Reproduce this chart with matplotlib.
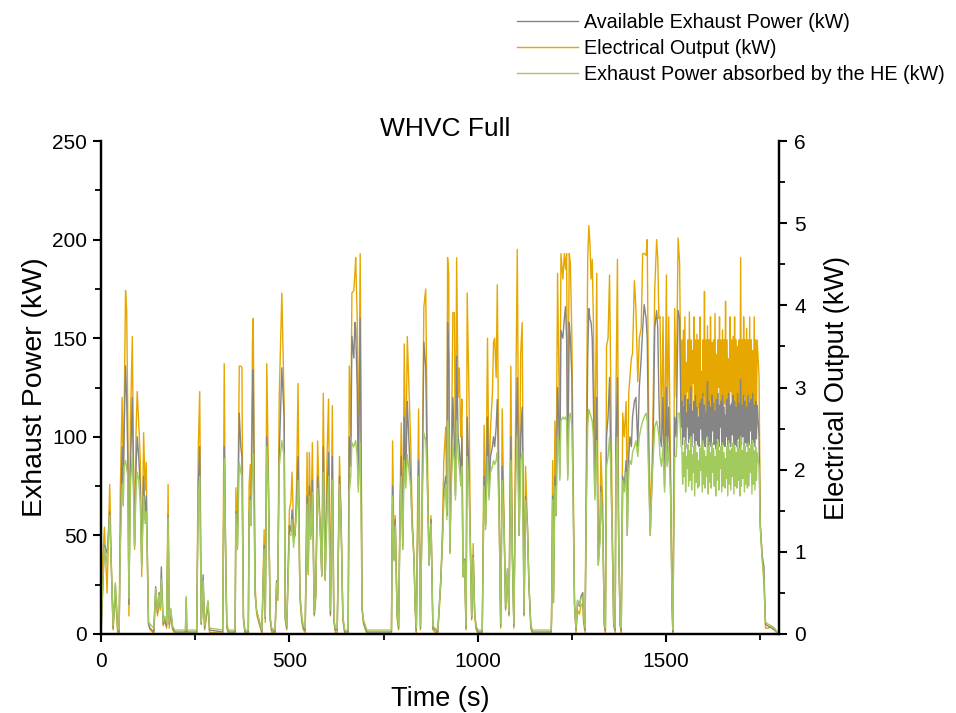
import matplotlib
matplotlib.use("Agg")
import matplotlib.pyplot as plt
from matplotlib.ticker import MultipleLocator

plt.rcParams['font.family'] = ['Liberation Sans', 'DejaVu Sans']

# ---- data ----
time_s = [0, 5, 9, 16, 23, 28, 32, 38, 44, 48, 51, 56, 59, 61, 65, 68, 71, 74, 78, 83,
          86, 89, 93, 96, 100, 104, 108, 113, 117, 120, 123, 126, 130, 140, 145, 150, 154, 157, 160, 165,
          169, 174, 178, 181, 185, 190, 196, 224, 226, 228, 254, 258, 262, 266, 271, 275, 284, 288, 323, 327,
          331, 334, 338, 356, 358, 362, 367, 371, 374, 378, 382, 391, 393, 396, 398, 402, 404, 409, 413, 420,
          427, 433, 436, 440, 444, 449, 453, 462, 466, 469, 473, 480, 486, 489, 493, 500, 504, 507, 511, 515,
          519, 523, 528, 533, 537, 542, 547, 550, 553, 557, 561, 566, 570, 575, 580, 583, 586, 590, 595, 600,
          604, 609, 614, 618, 622, 627, 633, 637, 642, 647, 656, 659, 663, 666, 671, 674, 676, 680, 683, 688,
          693, 697, 702, 706, 771, 774, 778, 781, 786, 790, 794, 797, 801, 805, 809, 813, 818, 822, 826, 831,
          834, 837, 843, 848, 852, 857, 862, 866, 871, 876, 881, 887, 894, 902, 906, 910, 915, 918, 920, 923,
          926, 930, 934, 938, 941, 944, 948, 951, 955, 958, 961, 965, 969, 972, 977, 980, 984, 988, 992, 996,
          1001, 1012, 1017, 1021, 1026, 1030, 1034, 1039, 1042, 1045, 1049, 1052, 1057, 1061, 1065, 1070, 1074, 1079, 1083, 1088,
          1092, 1096, 1101, 1105, 1110, 1114, 1118, 1123, 1127, 1132, 1136, 1141, 1145, 1195, 1196, 1199, 1201, 1205, 1208, 1212,
          1215, 1218, 1221, 1226, 1230, 1233, 1236, 1239, 1243, 1246, 1250, 1252, 1257, 1261, 1265, 1270, 1274, 1279, 1281, 1285,
          1288, 1292, 1295, 1298, 1301, 1304, 1307, 1311, 1316, 1320, 1325, 1327, 1332, 1336, 1339, 1342, 1346, 1350, 1353, 1357,
          1361, 1365, 1367, 1371, 1374, 1378, 1381, 1385, 1389, 1394, 1397, 1401, 1404, 1408, 1411, 1416, 1420, 1425, 1429, 1434,
          1438, 1442, 1447, 1450, 1454, 1458, 1463, 1466, 1470, 1475, 1478, 1481, 1484, 1488, 1492, 1496, 1501, 1503, 1507, 1512,
          1516, 1518, 1523, 1527, 1532, 1536, 1540,
          1542, 1544, 1546, 1548, 1550, 1552, 1554, 1556, 1558, 1560, 1562, 1564, 1566, 1568, 1570, 1572, 1574, 1576, 1578, 1580,
          1582, 1584, 1586, 1588, 1590, 1592, 1594, 1596, 1598, 1600, 1602, 1604, 1606, 1608, 1610, 1612, 1614, 1616, 1618, 1620,
          1622, 1624, 1626, 1628, 1630, 1632, 1634, 1636, 1638, 1640, 1642, 1644, 1646, 1648, 1650, 1652, 1654, 1656, 1658, 1660,
          1662, 1664, 1666, 1668, 1670, 1672, 1674, 1676, 1678, 1680, 1682, 1684, 1686, 1688, 1690, 1692, 1694, 1696, 1698, 1700,
          1702, 1704, 1706, 1708, 1710, 1712, 1714, 1716, 1718, 1720, 1722, 1724, 1726, 1728, 1730, 1732, 1734, 1736, 1738, 1740,
          1742,
          1747, 1750, 1755, 1760, 1762, 1764, 1771, 1780, 1788, 1795]

available_kw = [0, 25, 45, 41, 62, 30, 3, 25, 3, 1, 45, 95, 70, 100, 136, 120, 90, 15, 85, 120,
                80, 45, 85, 100, 90, 75, 35, 80, 58, 70, 40, 5, 3, 1, 24, 11, 21, 14, 34, 5,
                8, 4, 60, 5, 12, 3, 1, 1, 18, 1, 1, 75, 95, 5, 30, 3, 16, 2, 1, 95,
                39, 4, 1, 1, 62, 45, 112, 95, 90, 8, 1, 1, 60, 70, 55, 118, 134, 20, 12, 6,
                1, 45, 8, 100, 79, 8, 2, 1, 27, 20, 90, 135, 110, 8, 3, 55, 52, 63, 48, 50,
                65, 90, 20, 8, 3, 2, 70, 32, 75, 50, 78, 10, 20, 80, 62, 48, 30, 95, 28, 70,
                92, 10, 90, 7, 2, 2, 80, 60, 8, 1, 1, 100, 85, 151, 140, 158, 155, 125, 75, 160,
                13, 6, 3, 1, 1, 75, 38, 58, 10, 3, 65, 90, 45, 110, 78, 118, 95, 78, 55, 37,
                13, 2, 88, 3, 60, 148, 135, 80, 35, 58, 3, 2, 1, 28, 45, 72, 80, 60, 158, 140,
                42, 80, 120, 95, 70, 141, 100, 95, 80, 100, 29, 38, 3, 110, 80, 50, 8, 40, 10, 3,
                1, 1, 80, 55, 110, 70, 90, 95, 100, 95, 105, 119, 60, 4, 85, 55, 13, 33, 10, 100,
                40, 4, 90, 130, 50, 100, 115, 10, 70, 55, 25, 4, 1, 1, 8, 70, 16, 80, 60, 125,
                110, 80, 154, 150, 160, 166, 150, 80, 158, 150, 130, 90, 15, 2, 17, 14, 19, 21, 8, 2,
                60, 140, 165, 160, 158, 150, 120, 70, 120, 35, 50, 75, 55, 5, 2, 100, 110, 130, 90, 50,
                5, 2, 95, 130, 50, 5, 2, 80, 75, 88, 50, 90, 100, 95, 110, 118, 120, 95, 125, 140,
                155, 167, 160, 150, 85, 50, 80, 100, 155, 164, 155, 120, 100, 95, 120, 75, 125, 90, 115, 75,
                15, 1, 110, 100, 164, 160, 105,
                118, 96, 115, 100, 121, 94, 112, 105, 119, 97, 116, 99, 125, 95, 113, 102, 118, 94, 121, 98,
                115, 96, 110, 95, 117, 104, 119, 94, 122, 97, 116, 95, 112, 100, 128, 94, 118, 98, 115, 95,
                121, 103, 117, 96, 113, 94, 119, 99, 122, 95, 116, 105, 118, 94, 121, 96, 115, 95, 111, 100,
                119, 94, 122, 97, 116, 95, 117, 101, 121, 94, 118, 96, 115, 95, 122, 99, 117, 94, 129, 96,
                116, 100, 121, 94, 118, 97, 115, 95, 121, 96, 117, 103, 119, 94, 122, 97, 116, 95, 118, 99,
                116,
                100, 55, 40, 34, 18, 5, 4, 3, 2, 1]

absorbed_kw = [0, 28, 44, 36, 60, 30, 4, 26, 3, 2, 42, 76, 65, 85, 88, 84, 80, 18, 76, 90,
               72, 44, 75, 82, 78, 68, 34, 70, 56, 62, 40, 6, 5, 3, 23, 12, 20, 14, 28, 6,
               9, 6, 59, 6, 13, 4, 2, 2, 19, 2, 2, 70, 80, 6, 27, 4, 17, 3, 2, 89,
               38, 5, 2, 2, 61, 43, 87, 82, 80, 9, 2, 2, 58, 68, 55, 89, 91, 20, 12, 7,
               2, 43, 9, 95, 77, 9, 3, 2, 26, 20, 85, 98, 90, 9, 4, 50, 50, 58, 44, 52,
               62, 78, 20, 9, 4, 3, 66, 31, 70, 48, 72, 11, 20, 74, 60, 47, 30, 82, 28, 62,
               80, 12, 78, 8, 3, 3, 76, 58, 9, 2, 2, 72, 80, 97, 95, 97, 98, 90, 72, 97,
               13, 7, 4, 2, 2, 70, 37, 55, 11, 4, 62, 80, 43, 88, 74, 91, 82, 75, 54, 37,
               14, 3, 80, 4, 58, 102, 98, 78, 35, 56, 4, 3, 2, 27, 44, 68, 76, 58, 108, 104,
               41, 75, 96, 88, 68, 108, 90, 85, 75, 85, 29, 37, 4, 90, 75, 49, 9, 39, 10, 4,
               2, 2, 75, 53, 90, 68, 82, 85, 88, 86, 88, 92, 58, 5, 78, 54, 14, 33, 11, 88,
               40, 5, 80, 100, 50, 88, 92, 11, 68, 54, 26, 5, 2, 2, 8, 68, 16, 75, 60, 100,
               98, 78, 108, 110, 109, 110, 108, 78, 110, 112, 105, 85, 15, 3, 17, 15, 18, 19, 9, 3,
               58, 105, 114, 112, 110, 108, 100, 68, 98, 35, 48, 72, 53, 6, 3, 85, 90, 100, 85, 50,
               6, 3, 85, 100, 50, 6, 3, 78, 72, 82, 50, 84, 88, 86, 92, 95, 98, 90, 100, 105,
               108, 110, 112, 108, 80, 50, 78, 90, 105, 108, 105, 100, 90, 85, 95, 72, 100, 85, 95, 70,
               15, 2, 90, 90, 112, 112, 95,
               95, 76, 92, 80, 98, 72, 90, 84, 96, 75, 93, 78, 100, 73, 91, 82, 95, 70, 97, 77,
               92, 74, 88, 75, 94, 83, 96, 72, 98, 76, 93, 74, 90, 80, 100, 71, 95, 77, 92, 74,
               97, 82, 94, 75, 90, 70, 96, 78, 98, 73, 93, 84, 95, 72, 97, 75, 92, 74, 89, 79,
               95, 70, 98, 76, 93, 73, 94, 80, 97, 71, 95, 75, 92, 74, 98, 78, 94, 70, 100, 75,
               93, 79, 97, 72, 95, 76, 92, 74, 97, 75, 94, 82, 96, 71, 98, 76, 93, 73, 95, 78,
               92,
               85, 55, 38, 28, 16, 6, 5, 4, 3, 1]

electrical_kw = [0, 0.96, 1.30, 0.50, 1.82, 0.72, 0.05, 0.48, 0.02, 0.02, 1.73, 2.88, 1.92, 2.52, 4.18, 3.94, 2.64, 0.22, 2.57, 3.62,
                 2.16, 1.03, 2.47, 2.95, 2.57, 2.14, 0.70, 2.45, 1.75, 2.09, 0.82, 0.12, 0.05, 0.01, 0.48, 0.22, 0.43, 0.29, 0.60, 0.10,
                 0.17, 0.07, 1.82, 0.07, 0.24, 0.05, 0.01, 0.01, 0.07, 0.01, 0.01, 2.23, 2.95, 0.12, 0.60, 0.05, 0.34, 0.02, 0.01, 3.29,
                 0.72, 0.07, 0.01, 0.01, 1.78, 1.03, 3.26, 3.26, 3.24, 0.19, 0.01, 0.01, 1.80, 2.06, 1.44, 3.55, 3.84, 0.60, 0.24, 0.12,
                 0.01, 1.27, 0.14, 3.29, 2.04, 0.17, 0.02, 0.01, 0.58, 0.41, 2.88, 4.15, 2.81, 0.17, 0.05, 1.51, 1.61, 1.97, 1.32, 1.20,
                 1.80, 3.05, 0.43, 0.14, 0.05, 0.02, 2.21, 0.72, 2.21, 1.20, 2.33, 0.22, 0.43, 2.35, 1.51, 1.18, 0.70, 2.93, 0.65, 2.16,
                 2.86, 0.22, 2.78, 0.17, 0.02, 0.02, 2.16, 1.49, 0.17, 0.01, 0.01, 3.26, 2.40, 4.15, 4.18, 4.39, 4.58, 3.86, 1.92, 4.63,
                 0.29, 0.12, 0.05, 0.01, 0.01, 2.35, 0.91, 1.44, 0.19, 0.05, 1.66, 2.57, 1.03, 3.53, 1.92, 3.62, 2.93, 2.35, 1.44, 0.91,
                 0.29, 0.02, 2.74, 0.05, 1.44, 3.98, 4.20, 2.35, 0.84, 1.44, 0.05, 0.02, 0.01, 0.60, 1.25, 2.11, 2.52, 1.58, 4.58, 4.39,
                 0.98, 2.16, 3.91, 3.91, 1.75, 4.58, 2.88, 3.24, 2.40, 2.86, 0.70, 0.86, 0.05, 4.15, 2.88, 1.32, 0.17, 1.10, 0.22, 0.05,
                 0.01, 0.01, 2.54, 1.34, 3.60, 1.82, 2.50, 2.93, 3.55, 3.60, 3.12, 4.25, 1.44, 0.07, 2.74, 1.34, 0.29, 0.72, 0.22, 3.26,
                 0.96, 0.07, 2.83, 4.68, 1.20, 3.41, 3.79, 0.22, 2.04, 1.32, 0.60, 0.07, 0.01, 0.01, 0.14, 2.11, 0.38, 2.59, 1.68, 4.39,
                 3.36, 2.16, 4.63, 4.32, 4.63, 4.44, 4.63, 2.21, 4.63, 4.51, 3.60, 2.64, 0.36, 0.02, 0.29, 0.24, 0.34, 0.38, 0.14, 0.02,
                 1.92, 4.56, 4.97, 4.75, 4.32, 4.56, 3.84, 1.92, 4.39, 0.91, 1.44, 2.21, 1.56, 0.10, 0.02, 3.50, 3.60, 4.37, 3.12, 1.44,
                 0.10, 0.02, 2.88, 4.56, 1.44, 0.10, 0.02, 2.69, 2.40, 2.83, 1.44, 2.93, 3.12, 3.36, 3.41, 4.30, 3.96, 3.07, 3.60, 3.72,
                 4.63, 4.63, 4.61, 4.80, 2.52, 1.44, 2.04, 2.88, 4.20, 4.80, 4.58, 3.84, 3.86, 2.40, 3.86, 2.04, 4.37, 2.40, 3.86, 2.04,
                 0.36, 0.02, 3.96, 2.88, 4.82, 4.51, 2.64,
                 3.58, 2.50, 3.70, 2.62, 3.86, 2.48, 3.30, 2.95, 3.58, 2.52, 3.92, 2.70, 3.58, 2.45, 3.45, 3.05, 3.86, 2.52, 3.58, 2.58,
                 3.65, 2.40, 3.58, 2.75, 3.86, 2.52, 3.20, 2.55, 3.58, 2.90, 4.17, 2.50, 3.58, 2.66, 3.75, 2.52, 3.58, 2.30, 3.86, 2.85,
                 3.55, 2.52, 3.58, 2.62, 3.90, 2.48, 3.40, 2.70, 3.58, 3.00, 3.86, 2.52, 3.58, 2.56, 3.70, 2.45, 3.58, 2.80, 4.05, 2.52,
                 3.58, 2.60, 3.35, 2.50, 3.86, 2.95, 3.58, 2.52, 3.62, 2.68, 3.86, 2.40, 3.58, 2.52, 3.50, 2.78, 3.58, 2.52, 4.58, 2.60,
                 3.58, 2.48, 3.86, 2.90, 3.58, 2.52, 3.72, 2.65, 3.58, 2.35, 3.86, 2.52, 3.58, 2.75, 3.45, 2.52, 3.86, 2.60, 3.58, 2.70,
                 3.58,
                 3.12, 1.39, 0.96, 0.60, 0.36, 0.07, 0.07, 0.10, 0.05, 0.01]

x_ticks = [0, 500, 1000, 1500]
left_ticks = [0, 50, 100, 150, 200, 250]
right_ticks = [0, 1, 2, 3, 4, 5, 6]

# ---- figure ----
fig = plt.figure(figsize=(9.56, 7.13), dpi=100)
ax = fig.add_axes([0.1057, 0.1108, 0.7092, 0.6914])
ax2 = ax.twinx()
ax.set_zorder(ax2.get_zorder() + 1)
ax.patch.set_visible(False)

c_gray = '#858585'
c_orange = '#E6A800'
c_green = '#A3CA5C'

l2, = ax2.plot(time_s, electrical_kw, color=c_orange, lw=1.0, label='Electrical Output (kW)')
l1, = ax.plot(time_s, available_kw, color=c_gray, lw=1.0, label='Available Exhaust Power (kW)')
l3, = ax.plot(time_s, absorbed_kw, color=c_green, lw=1.0, label='Exhaust Power absorbed by the HE (kW)')

ax.set_xlim(0, 1800)
ax.set_ylim(0, 250)
ax2.set_ylim(0, 6)

for a in (ax, ax2):
    a.spines['top'].set_visible(False)
    for s in ('left', 'right', 'bottom'):
        a.spines[s].set_linewidth(1.6)

ax.set_xticks(x_ticks)
ax.set_yticks(left_ticks)
ax2.set_yticks(right_ticks)
ax.xaxis.set_minor_locator(MultipleLocator(250))
ax.yaxis.set_minor_locator(MultipleLocator(25))
ax2.yaxis.set_minor_locator(MultipleLocator(0.5))

ax.tick_params(axis='both', which='major', direction='out', length=6, width=1.5, labelsize=15)
ax.tick_params(axis='both', which='minor', direction='out', length=4, width=1.3)
ax.tick_params(axis='x', which='major', pad=7)
ax.tick_params(axis='y', which='major', pad=4)
ax2.tick_params(axis='y', which='major', direction='out', length=6, width=1.5, labelsize=15, pad=5)
ax2.tick_params(axis='y', which='minor', direction='out', length=4, width=1.3)

ax.set_xlabel('Time (s)', fontsize=19.5, labelpad=11)
ax.set_ylabel('Exhaust Power (kW)', fontsize=20.5, labelpad=3)
ax2.set_ylabel('Electrical Output (kW)', fontsize=19.5, labelpad=13)
ax.set_title('WHVC Full', fontsize=19, pad=3, x=0.507)

fig.legend(handles=[l1, l2, l3], loc='upper left', bbox_to_anchor=(0.541, 0.982),
           frameon=False, fontsize=14.2, handlelength=3.1, handletextpad=0.3,
           labelspacing=0.36, borderaxespad=0, borderpad=0)

fig.savefig('out.png', dpi=100)
